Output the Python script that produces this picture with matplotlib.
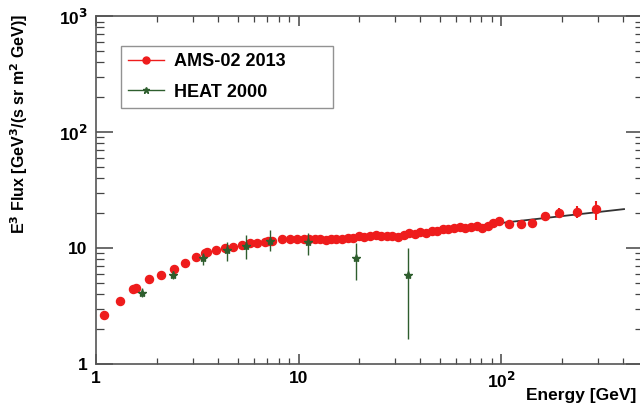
import numpy as np
import matplotlib
matplotlib.use('Agg')
import matplotlib.pyplot as plt
from matplotlib.lines import Line2D
from matplotlib.ticker import NullFormatter, LogLocator

plt.rcParams['font.family'] = ['Liberation Sans', 'DejaVu Sans']
plt.rcParams['font.weight'] = 'bold'

# AMS-02 2013 positron flux (E^3 weighted)
ams_e = [1.095, 1.32, 1.53, 1.58, 1.82, 2.10, 2.44, 2.75, 3.12, 3.45, 3.52, 3.90,
         4.35, 4.76, 5.24, 5.76, 6.26, 6.80, 7.10, 7.40, 8.26, 9.05, 9.80,
         10.6, 11.3, 12.0, 12.8, 13.6, 14.5, 15.4, 16.4, 17.5, 18.6, 19.8, 21.1,
         22.5, 24.0, 25.6, 27.3, 29.1, 31.0, 33.0, 35.2, 37.5, 40.0, 42.6, 45.4,
         48.4, 51.6, 55.0, 58.6, 62.5, 66.6, 71.0, 75.7, 80.7, 86.0, 91.7, 97.7,
         109.6, 125.0, 143.0, 165.5, 193.0, 236.0, 294.0]
ams_f = [2.64, 3.52, 4.40, 4.55, 5.39, 5.88, 6.66, 7.42, 8.46, 9.10, 9.30, 9.73,
         9.95, 10.3, 10.6, 11.0, 11.1, 11.4, 11.5, 11.5, 11.97, 12.0, 12.0,
         12.0, 12.1, 11.9, 12.0, 11.8, 11.9, 12.1, 11.9, 12.2, 12.3, 12.7, 12.5,
         12.6, 12.9, 12.6, 12.8, 12.6, 12.4, 12.9, 13.4, 13.3, 13.7, 13.6, 14.1,
         14.0, 14.6, 14.5, 14.8, 15.1, 14.9, 15.3, 15.6, 14.9, 15.4, 16.4, 17.0,
         16.1, 16.1, 16.4, 19.0, 20.2, 20.6, 21.6]
ams_err = [0.05, 0.06, 0.07, 0.07, 0.08, 0.08, 0.09, 0.1, 0.1, 0.1, 0.1, 0.1,
           0.1, 0.1, 0.1, 0.1, 0.1, 0.1, 0.1, 0.1, 0.15, 0.15, 0.15,
           0.2, 0.2, 0.2, 0.2, 0.2, 0.2, 0.2, 0.2, 0.25, 0.25, 0.25, 0.25,
           0.3, 0.3, 0.3, 0.3, 0.3, 0.35, 0.35, 0.35, 0.4, 0.4, 0.4, 0.45,
           0.45, 0.5, 0.5, 0.5, 0.55, 0.55, 0.6, 0.6, 0.65, 0.7, 0.75, 0.8,
           1.0, 1.1, 1.3, 1.6, 2.0, 2.5, 4.0]

# HEAT 2000
heat_e = [1.69, 2.39, 3.39, 4.42, 5.49, 7.23, 11.2, 19.2, 34.6]
heat_f = [4.13, 5.88, 8.2, 9.67, 10.5, 11.6, 11.4, 8.2, 5.88]
heat_lo = [3.8, 5.4, 7.2, 7.8, 8.1, 9.5, 8.7, 5.3, 1.65]
heat_hi = [4.5, 6.4, 9.1, 11.2, 13.0, 14.2, 13.4, 11.0, 10.0]

# power-law fit above 30 GeV
fit_e = [30.0, 405.0]
fit_f = [13.0, 21.7]

red = '#ee1c1c'
green = '#2e5e2e'

fig = plt.figure(figsize=(6.4, 4.05), dpi=100)
ax = fig.add_axes([0.15, 0.101, 0.854, 0.859])

ax.plot(fit_e, fit_f, c='#333333', lw=1.3, zorder=3)

ams_e = np.array(ams_e)
ams_f = np.array(ams_f)
ax.errorbar(ams_e, ams_f, yerr=ams_err, fmt='o', c=red, ms=5.8,
            elinewidth=1.5, capsize=0, zorder=4)

heat_f = np.array(heat_f)
yerr = [heat_f - np.array(heat_lo), np.array(heat_hi) - heat_f]
ax.errorbar(heat_e, heat_f, yerr=yerr, fmt='*', c=green, ms=6,
            elinewidth=1.0, capsize=0, zorder=5)

ax.set_xscale('log')
ax.set_yscale('log')
ax.set_xlim(1, 500)
ax.set_ylim(1, 1000)

ax.set_xticks([1, 10, 100])
ax.set_xticklabels(['1', '10', '10$^2$'])
ax.set_yticks([1, 10, 100, 1000])
ax.set_yticklabels(['1', '10', '10$^2$', '10$^3$'])
ax.xaxis.set_minor_locator(LogLocator(base=10, subs=np.arange(2, 10)))
ax.yaxis.set_minor_locator(LogLocator(base=10, subs=np.arange(2, 10)))
ax.xaxis.set_minor_formatter(NullFormatter())
ax.yaxis.set_minor_formatter(NullFormatter())

ax.tick_params(which='both', direction='in', top=True, right=True,
               color='#444444', labelsize=12.5)
ax.yaxis.set_tick_params(which='major', length=12, width=1.1, pad=6)
ax.yaxis.set_tick_params(which='minor', length=6, width=0.9)
ax.xaxis.set_tick_params(which='major', length=7, width=1.1, pad=5)
ax.xaxis.set_tick_params(which='minor', length=4, width=0.9)

for s in ax.spines.values():
    s.set_color('#555555')
    s.set_linewidth(1.2)

ax.set_ylabel('E$^3$ Flux [GeV$^3$/(s sr m$^2$ GeV)]', fontsize=11.5, fontweight='bold',
              va='center')
ax.yaxis.set_label_coords(-0.14, 0.69)
ax.set_xlabel('Energy [GeV]', fontsize=12.5, fontweight='bold', ha='right', va='center')
ax.xaxis.set_label_coords(0.989, -0.089)

handles = [Line2D([], [], c=red, lw=1.0, marker='o', ms=5),
           Line2D([], [], c=green, lw=1.0, marker='*', ms=5)]
leg = ax.legend(handles, ['AMS-02 2013', 'HEAT 2000'], loc='upper left',
                bbox_to_anchor=(0.046, 0.735, 0.388, 0.18), mode='expand',
                fontsize=13, frameon=True, fancybox=False, edgecolor='#777777',
                handlelength=2.0, borderpad=0.4, labelspacing=0.75,
                handletextpad=0.5, borderaxespad=0)
leg.get_frame().set_linewidth(1.0)
for t in leg.get_texts():
    t.set_fontweight('bold')

plt.savefig('out.png', dpi=100)
